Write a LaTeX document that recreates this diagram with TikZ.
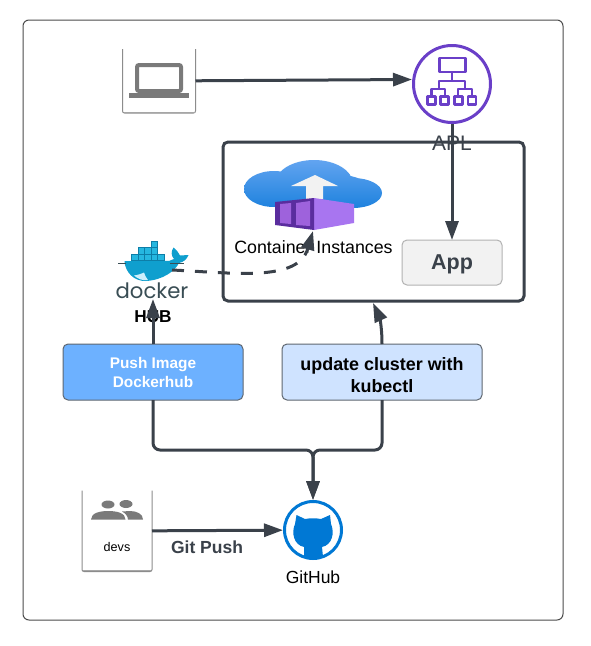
\documentclass[tikz,border=0pt]{standalone}
\usepackage{fontspec}
\setmainfont{Liberation Sans}
\usetikzlibrary{positioning, arrows.meta}
\newfontfamily\dockerfont{Poppins}
\definecolor{linedark}{HTML}{3A414A}
\definecolor{boxedge}{HTML}{5F6770}
\definecolor{aplpurple}{HTML}{6A3FC8}
\definecolor{gitblue}{HTML}{0078D4}
\definecolor{icongray}{HTML}{7A7A7A}
\definecolor{whaleblue}{HTML}{0F9FCE}
\definecolor{pushblue}{HTML}{6DB1FF}
\definecolor{updateblue}{HTML}{CFE3FF}
\definecolor{cloudtop}{HTML}{62A4F0}
\definecolor{cloudlow}{HTML}{1E82DE}
\definecolor{crateface}{HTML}{A875F0}
\definecolor{cratedark}{HTML}{5A2D9E}
\definecolor{cratedoor}{HTML}{9E62DC}
\definecolor{dockfill}{HTML}{25B7E0}
\definecolor{dockline}{HTML}{0D7EA8}
\definecolor{dockertext}{HTML}{394D54}
\tikzset{
    flow/.style={draw=linedark, line width=3pt, ->},
    boxnode/.style={draw=boxedge, line width=1pt, rounded corners=5pt, inner sep=0pt, outer sep=0pt, minimum height=56pt, align=center, font=\bfseries},
    cardnode/.style={inner sep=0pt, outer sep=0pt},
    cardedge/.style={draw=black!45, line width=1pt, rounded corners=2pt},
    dockbox/.style={draw=dockline, line width=0.5pt, fill=dockfill},
}
\begin{document}
\begin{tikzpicture}[x=1pt, y=-1pt, >={Triangle[length=19pt, width=13pt]}]
        \useasboundingbox (0,0) rectangle (591,646);
        \fill[white] (0,0) rectangle (591,646);

        \node[draw=black!70, line width=1pt, rounded corners=6pt, minimum width=540pt, minimum height=600pt, inner sep=0pt] (outer_frame) at (293,320) {};

        % top row
        \node[cardnode, minimum width=73pt, minimum height=64pt] (laptop_card) at (159,81) {};
        \draw[cardedge] (laptop_card.north west) -- (laptop_card.south west) -- (laptop_card.south east) -- (laptop_card.north east);
        \draw[black!35, line width=1pt] ([shift={(1pt,1pt)}]laptop_card.south west) -- ([shift={(-1pt,1pt)}]laptop_card.south east);
        \draw[icongray, line width=4pt, rounded corners=2pt] (137,65) rectangle (181,91);
        \fill[icongray] (129,93) rectangle (189,97.5);

        \node[circle, draw=aplpurple, line width=3pt, minimum size=77pt, inner sep=0pt, outer sep=1.5pt] (apl) at (452,84) {};
        \begin{scope}[aplpurple, line width=2.8pt, line join=round]
            \draw (439.5,58) rectangle (465.5,72);
            \draw (452,72) -- (452,81);
            \draw (439,88) |- (465,81) -- (465,88);
            \draw (431.5,96) |- (445,89) -- (445,96);
            \draw (458,96) |- (472,89) -- (472,96);
            \foreach \sx in {431.5,444.5,458.5,472}
                \draw (\sx-4,96.5) rectangle (\sx+4,104.5);
        \end{scope}

        % cluster
        \node[draw=linedark, line width=3pt, rounded corners=5pt, minimum width=301pt, minimum height=159pt, inner sep=0pt, outer sep=1.5pt] (cluster_box) at (373.5,221.5) {};
        \node[boxnode, draw=black!30, fill=black!5, minimum width=100pt, minimum height=45pt, font=\fontsize{21.5}{24}\selectfont\bfseries, text=linedark] (app) at (452,262.5) {\rule{0pt}{19pt}App};

        % container instance icon
        \shade[top color=cloudtop, bottom color=cloudlow] (274,189) ellipse [x radius=30, y radius=18]
            (314,184) ellipse [x radius=39, y radius=24]
            (353,193) ellipse [x radius=29, y radius=15]
            (313,190) ellipse [x radius=60, y radius=18];
        \fill[black!5] (315,175) -- (338,186) -- (323,186) -- (323,199) -- (306,199) -- (306,186) -- (291,186) -- cycle;
        \fill[crateface] (314,198) -- (354,204) -- (354,223) -- (314,230) -- cycle;
        \fill[cratedark] (275,202) -- (314,198) -- (314,230) -- (275,225) -- cycle;
        \fill[cratedoor] (280,204) -- (291,203) -- (291,224) -- (280,223) -- cycle;
        \fill[cratedoor] (296,203) -- (310,201) -- (310,226) -- (296,225) -- cycle;
        \node[font=\fontsize{17.8}{20}\selectfont] (container_label) at (313.5,247.5) {Container Instances};

        % docker
        \foreach \bx in {131.5,138,144.5,151,157.5}
            \draw[dockbox] (\bx,254) rectangle ++(6.5,6.5);
        \foreach \bx in {138,144.5,151}
            \draw[dockbox] (\bx,247.5) rectangle ++(6.5,6.5);
        \draw[dockbox] (151,241) rectangle ++(6.5,6.5);
        \fill[whaleblue] (124.5,261) .. controls (125,272) and (134,281.5) .. (146,281) .. controls (163,280) and (175,271) .. (179,263)
            .. controls (184,262) and (187,259) .. (188.5,255) -- (180,255.5) .. controls (178,252) and (176,249) .. (173.5,247.5) .. controls (171,251) and (171,256) .. (174,259) .. controls (171,261) and (168,261) .. (165,261) -- cycle;
        \fill[white!80!cyan] (134,275.5) .. controls (138,275) and (142,273.5) .. (144,272.5) .. controls (145,275) and (146,278) .. (148,280) .. controls (143,281) and (138,279) .. (134,275.5) -- cycle;
        \draw[dockertext, line width=0.7pt] (118,263) -- (126,263) (170,263) -- (184,263);
        \node[font=\dockerfont\fontsize{21.2}{24}\selectfont, text=dockertext] (docker_label) at (152,291) {docker};
        \node[font=\fontsize{17.2}{20}\selectfont\bfseries] (hub_label) at (153,317) {HUB};

        % build steps
        \node[boxnode, fill=pushblue, minimum width=180pt, text=white, font=\fontsize{15.4}{19}\selectfont\bfseries] (push_image) at (153,372) {Push Image\\Dockerhub};
        \node[boxnode, fill=updateblue, minimum width=200pt, font=\fontsize{17.9}{22}\selectfont\bfseries] (update_cluster) at (382,372) {\rule{0pt}{19pt}update cluster with\\kubectl};

        % bottom row
        \node[cardnode, minimum width=70pt, minimum height=81pt] (devs_card) at (117,531) {};
        \draw[cardedge] (devs_card.north west) -- (devs_card.south west) -- (devs_card.south east) -- (devs_card.north east);
        \draw[black!35, line width=1pt] ([shift={(1pt,1pt)}]devs_card.south west) -- ([shift={(-1pt,1pt)}]devs_card.south east);
        \fill[icongray] (108,504.5) ellipse [x radius=6.5, y radius=4] (126,504) ellipse [x radius=6.5, y radius=4];
        \fill[icongray] (91,519.5) .. controls (91,513) and (100,511) .. (108,511) .. controls (117,511) and (125.5,513) .. (125.5,519.5) -- cycle;
        \fill[icongray] (128,519.5) .. controls (128,516) and (125,513) .. (122,511.5) -- (130,511) .. controls (137,511) and (143,514) .. (143,519.5) -- cycle;
        \node[font=\fontsize{12.6}{15}\selectfont] (devs_label) at (117,547) {devs};

        \node[circle, draw=gitblue, line width=3pt, minimum size=57pt, inner sep=0pt, outer sep=1.5pt] (github) at (313,530) {};
        \fill[gitblue] (296.5,515) -- (305,519) .. controls (310,518) and (316,518) .. (321,519) -- (330,515) -- (331,524)
            .. controls (335,533) and (332,545) .. (322,547) -- (323,557) .. controls (318,559) and (308,559) .. (304,557) -- (304,547)
            .. controls (294,545) and (291,533) .. (295,524) -- cycle;
        \node[font=\fontsize{17.5}{20}\selectfont] (github_label) at (313,577) {GitHub};
        \node[font=\fontsize{17.5}{20}\selectfont\bfseries, text=linedark] (gitpush_label) at (207,547) {Git Push};

        \coordinate (apl_in) at (412,79.5);
        \coordinate (merge) at (313,450);
        \coordinate (docker_in) at (153,299);
        \coordinate (cluster_in) at (373,303);
        \coordinate (whale_tail) at (172,270);
        \coordinate (container_in) at (313,231);

        \node[font=\fontsize{21}{24}\selectfont, text=linedark] (apl_label) at (452,143) {APL};

        \path[flow] (laptop_card) -- (apl_in);
        \path[flow] (apl) -- (app);
        \path[flow] (push_image) -- (docker_in);
        \path[flow] (update_cluster.north) .. controls (382,325) and (379,316) .. (cluster_in);
        \path[flow, dashed, dash pattern=on 12pt off 11pt] (whale_tail) .. controls (235,273) and (298,282) .. (container_in);
        \path[flow, rounded corners=7pt] (push_image) |- (merge) -- (github);
        \path[flow, rounded corners=7pt] (update_cluster) |- (merge) -- (github);
        \path[flow] (devs_card) -- (github);
    \end{tikzpicture}
\end{document}
